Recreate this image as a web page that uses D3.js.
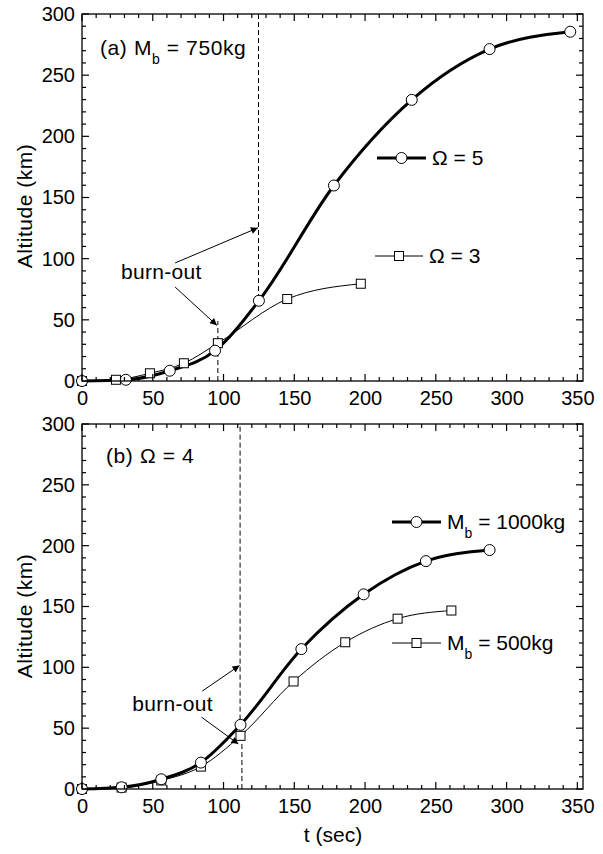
<!DOCTYPE html>
<html><head><meta charset="utf-8">
<script src="https://cdn.jsdelivr.net/npm/d3@7"></script>
<style>body{margin:0;background:#fff}svg{display:block;font-family:"Liberation Sans",Arial,sans-serif}</style>
</head><body>
<svg id="c" width="603" height="854"></svg>
<script>
// ---- data ----
const xTicks = [0,50,100,150,200,250,300,350];
const yTicks = [0,50,100,150,200,250,300];
// panel (a) Mb = 750kg
const tOmega5 = [0,31,62,94,125,178,233,288,345];
const altOmega5 = [0,1,8.4,24.8,65.6,159.8,229.8,271.3,285.5];
const tOmega3 = [0,24,48,72,96,145,197];
const altOmega3 = [0,1,6.3,14.5,30.9,67,79.5];
// panel (b) Omega = 4
const tMb1000 = [0,28,56,84,112,155,199,243,288];
const altMb1000 = [0,1.4,8,21.7,52.7,115,160,187.3,196.4];
const tMb500 = [0,28,56,84,112,149.5,186,223,261];
const altMb500 = [0,1.2,7,18.4,43.7,88.4,120.6,140,146.7];
// burn-out markers: time, lower altitude, upper altitude
const burnA_t = [124.7, 96];   const burnA_lo = [67, 0];  const burnA_hi = [300, 49];
const burnB_t = [111.7, 113];  const burnB_lo = [57, 0];  const burnB_hi = [300, 40];

const svg = d3.select("#c");
const x = d3.scaleLinear().domain([0,354]).range([82,583]);

svg.append("defs").append("marker").attr("id","ah")
  .attr("viewBox","0 0 10 10").attr("refX",10).attr("refY",5)
  .attr("markerWidth",9).attr("markerHeight",7).attr("markerUnits","userSpaceOnUse")
  .attr("orient","auto")
  .append("path").attr("d","M0,0 L10,5 L0,10 Z").attr("fill","#000");

function richText(el, parts){
  let sub=false;
  parts.forEach(p=>{
    const ts = el.append("tspan").text(p.s);
    if(p.sub){ ts.attr("font-size",14).attr("dy",9); sub=true; }
    else if(sub){ ts.attr("dy",-9); sub=false; }
  });
}

function panel(cfg){
  const y = d3.scaleLinear().domain([0,300]).range(cfg.yr);
  const g = svg.append("g");
  const line = d3.line().x(d=>x(d[0])).y(d=>y(d[1])).curve(d3.curveMonotoneX);
  cfg.series.forEach(s=>{
    const pts = s.t.map((t,i)=>[t,s.a[i]]);
    g.append("path").attr("d",line(pts)).attr("fill","none").attr("stroke","#000").attr("stroke-width",s.w);
  });
  cfg.burn.t.forEach((t,i)=>{
    g.append("line").attr("x1",x(t)).attr("x2",x(t)).attr("y1",y(cfg.burn.lo[i])).attr("y2",y(cfg.burn.hi[i]))
      .attr("stroke","#000").attr("stroke-width",1).attr("stroke-dasharray","5,3");
  });
  cfg.series.forEach(s=>{
    s.t.forEach((t,i)=>drawMarker(g, s.m, x(t), y(s.a[i])));
  });
  cfg.arrows.forEach(a=>{
    g.append("line").attr("x1",x(a[0])).attr("y1",y(a[1])).attr("x2",x(a[2])).attr("y2",y(a[3]))
      .attr("stroke","#000").attr("stroke-width",1).attr("marker-end","url(#ah)");
  });
  g.append("text").attr("x",x(cfg.boLabel[0])).attr("y",y(cfg.boLabel[1])).attr("text-anchor","middle")
    .attr("font-size",21).attr("letter-spacing",0.3).text("burn-out");
  const [y0,y1] = cfg.yr;
  g.append("rect").attr("x",x(0)).attr("y",y1).attr("width",x(354)-x(0)).attr("height",y0-y1)
    .attr("fill","none").attr("stroke","#000").attr("stroke-width",1.3);
  const minorX = d3.range(0,355,10), minorY = d3.range(0,301,10);
  minorX.forEach(v=>{
    const L = v%50===0?7:4;
    g.append("line").attr("x1",x(v)).attr("x2",x(v)).attr("y1",y0).attr("y2",y0-L).attr("stroke","#000").attr("stroke-width",1.2);
    g.append("line").attr("x1",x(v)).attr("x2",x(v)).attr("y1",y1).attr("y2",y1+L).attr("stroke","#000").attr("stroke-width",1.2);
  });
  minorY.forEach(v=>{
    const L = v%50===0?7:4;
    g.append("line").attr("x1",x(0)).attr("x2",x(0)+L).attr("y1",y(v)).attr("y2",y(v)).attr("stroke","#000").attr("stroke-width",1.2);
    g.append("line").attr("x1",x(354)).attr("x2",x(354)-L).attr("y1",y(v)).attr("y2",y(v)).attr("stroke","#000").attr("stroke-width",1.2);
  });
  const ax = g.append("g").attr("transform",`translate(0,${y0})`)
    .call(d3.axisBottom(x).tickValues(xTicks).tickSize(0).tickPadding(10));
  const ay = g.append("g").attr("transform",`translate(${x(0)},0)`)
    .call(d3.axisLeft(y).tickValues(yTicks).tickSize(0).tickPadding(7));
  [ax,ay].forEach(a=>{a.select(".domain").remove();
    a.selectAll("text").attr("font-size",20).attr("font-family","Liberation Sans, Arial, sans-serif").attr("fill","#000");});
  ax.selectAll("text").attr("dy","0.71em");
  g.append("text").attr("transform",`translate(32,${cfg.ylabY}) rotate(-90)`).attr("text-anchor","middle")
    .attr("font-size",21).attr("letter-spacing",0.5).text("Altitude (km)");
  const pl = g.append("text").attr("x",cfg.plab.x).attr("y",cfg.plab.y).attr("font-size",21).attr("letter-spacing",0.6);
  richText(pl, cfg.plab.parts);
  cfg.legend.forEach(l=>{
    g.append("line").attr("x1",l.x1).attr("x2",l.x2).attr("y1",l.y).attr("y2",l.y).attr("stroke","#000").attr("stroke-width",l.w);
    drawMarker(g,l.m,(l.x1+l.x2)/2,l.y);
    const tx = g.append("text").attr("x",l.tx).attr("y",l.y+7).attr("font-size",21);
    richText(tx, l.parts);
  });
}
function drawMarker(g,m,cx,cy){
  if(m==="c") g.append("circle").attr("cx",cx).attr("cy",cy).attr("r",5.5).attr("fill","#fff").attr("stroke","#000").attr("stroke-width",1);
  else g.append("rect").attr("x",cx-4.5).attr("y",cy-4.5).attr("width",9).attr("height",9).attr("fill","#fff").attr("stroke","#000").attr("stroke-width",1);
}

panel({
  yr:[381,14],
  series:[{t:tOmega3,a:altOmega3,w:1,m:"s"},{t:tOmega5,a:altOmega5,w:3,m:"c"}],
  burn:{t:burnA_t,lo:burnA_lo,hi:burnA_hi},
  arrows:[[65.8,96.5,124.3,125.2],[65.8,76.8,95.3,45.5]],
  boLabel:[56,83],
  ylabY:206,
  plab:{x:100,y:55,parts:[{s:"(a) M"},{s:"b",sub:true},{s:" = 750kg"}]},
  legend:[
    {x1:377,x2:426,y:158,w:3,m:"c",tx:432,parts:[{s:"Ω = 5"}]},
    {x1:375,x2:423,y:256,w:1,m:"s",tx:429,parts:[{s:"Ω = 3"}]}
  ]
});
panel({
  yr:[789,424],
  series:[{t:tMb500,a:altMb500,w:1,m:"s"},{t:tMb1000,a:altMb1000,w:3,m:"c"}],
  burn:{t:burnB_t,lo:burnB_lo,hi:burnB_hi},
  arrows:[[85,80.5,111.3,101.5],[84.5,59,110.5,37]],
  boLabel:[64,64.5],
  ylabY:616,
  plab:{x:106,y:463,parts:[{s:"(b) Ω = 4"}]},
  legend:[
    {x1:392,x2:441,y:522,w:3,m:"c",tx:447,parts:[{s:"M"},{s:"b",sub:true},{s:" = 1000kg"}]},
    {x1:392,x2:441,y:643,w:1,m:"s",tx:447,parts:[{s:"M"},{s:"b",sub:true},{s:" = 500kg"}]}
  ]
});
svg.append("text").attr("x",333).attr("y",842).attr("text-anchor","middle").attr("font-size",21).text("t (sec)");
</script>
</body></html>
